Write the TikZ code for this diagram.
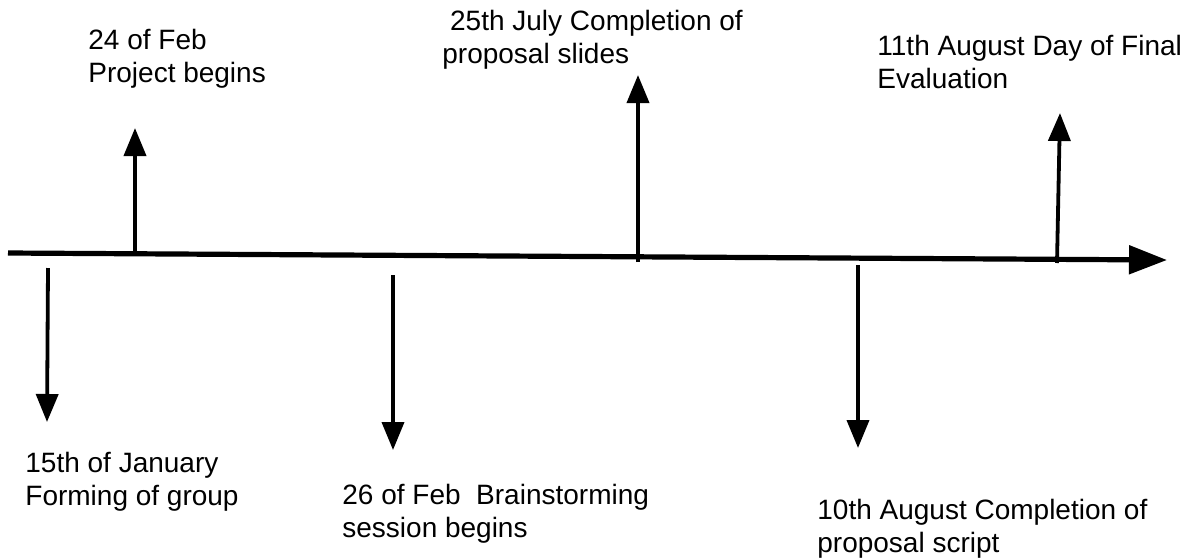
\documentclass[tikz,border=0pt]{standalone}
\usepackage{fontspec}
\setmainfont{Liberation Sans}
\usetikzlibrary{arrows.meta}

\begin{document}
\begin{tikzpicture}[
    x=0.5pt, y=-0.5pt,
    axisline/.style={-{Triangle[length=19pt,width=14pt]}, line width=2.6pt},
    event/.style={-{Triangle[length=14pt,width=11pt]}, line width=1.9pt},
    datelabel/.style={anchor=base west, inner sep=0pt, align=left,
        font=\fontsize{14pt}{16.4pt}\selectfont}
]
    \useasboundingbox (0,0) rectangle (1196,559);

    % Time axis
    \coordinate (start) at (8,253);
    \coordinate (end) at (1167,260);
    \draw[axisline] (start) -- (end);

    % Points on the axis and arrow tips
    \coordinate (jan) at (48,268);    \coordinate (jantip) at (47,422);
    \coordinate (feb) at (135,255);   \coordinate (febtip) at (135,128);
    \coordinate (brain) at (393,275); \coordinate (braintip) at (393,450);
    \coordinate (jul) at (638,262);   \coordinate (jultip) at (638,75);
    \coordinate (aug) at (858,265);   \coordinate (augtip) at (858,448);
    \coordinate (fin) at (1057,263);  \coordinate (fintip) at (1060,113);

    % Arrows
    \draw[event] (jan) -- (jantip);
    \draw[event] (feb) -- (febtip);
    \draw[event] (brain) -- (braintip);
    \draw[event] (jul) -- (jultip);
    \draw[event] (aug) -- (augtip);
    \draw[event] (fin) -- (fintip);

    % Labels (anchored on the baseline of the last line)
    \node[datelabel] (janlabel) at (25,505) {15th of January\\Forming of group};
    \node[datelabel] (feblabel) at (88,82) {24 of Feb\\Project begins};
    \node[datelabel] (brainlabel) at (342,537) {26 of Feb\ \ Brainstorming\\session begins};
    \node[datelabel] (jullabel) at (442,63) {\ 25th July Completion of\\proposal slides};
    \node[datelabel] (auglabel) at (817,552) {10th August Completion of\\proposal script};
    \node[datelabel] (finlabel) at (877,88) {11th August Day of Final\\Evaluation};
\end{tikzpicture}
\end{document}
